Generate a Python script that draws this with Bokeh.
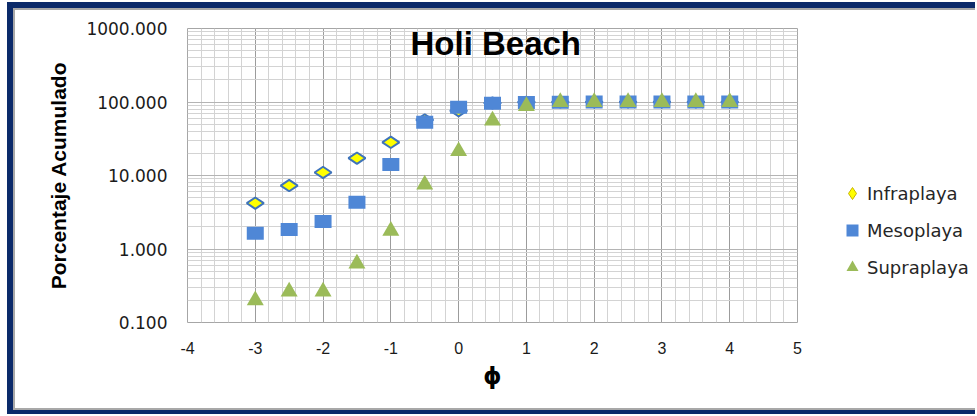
import math
from bokeh.plotting import figure
from bokeh.layouts import column, row
from bokeh.models import (Range1d, FixedTicker, SingleIntervalTicker, PrintfTickFormatter,
                          Label, Legend, LegendItem)
from bokeh.embed import file_html
from bokeh.resources import INLINE

# ---- data ----
phi = [-3, -2.5, -2, -1.5, -1, -0.5, 0, 0.5, 1, 1.5, 2, 2.5, 3, 3.5, 4]
infraplaya = [4.2, 7.3, 11.0, 17.2, 28.3, 57, 76, 97, 99.5, 100, 100, 100, 100, 100, 100]
mesoplaya = [1.64, 1.84, 2.37, 4.33, 14.1, 53, 85, 96.4, 98.5, 99.5, 100, 100, 100, 100, 100]
supraplaya = [0.20, 0.263, 0.263, 0.635, 1.77, 7.55, 21.4, 56, 88, 99.5, 100, 100, 100, 100, 100]
series_names = ["Infraplaya", "Mesoplaya", "Supraplaya"]
y_ticks = [0.1, 1, 10, 100, 1000]
x_ticks = [-4, -3, -2, -1, 0, 1, 2, 3, 4, 5]
chart_title = "Holi Beach"
x_title = "ϕ"
y_title = "Porcentaje Acumulado"

C_YELLOW = "#FFFF00"
C_BLUE = "#4F87D6"
C_DBLUE = "#3F74BA"
C_GREEN = "#9BBB59"
NAVY = "#0B2A6A"
GREY = "#A8A8A8"

H = 398
W_MAIN, W_LEG = 815, 145

p = figure(width=W_MAIN, height=H,
           x_range=Range1d(x_ticks[0], x_ticks[-1]), y_range=Range1d(y_ticks[0], y_ticks[-1]),
           y_axis_type="log", output_backend="svg", toolbar_location=None,
           min_border_left=172, min_border_right=33, min_border_top=18, min_border_bottom=86,
           background_fill_color="white", border_fill_color="white")
p.outline_line_color = "#A6A6A6"

# ticks / grids
xt = SingleIntervalTicker(interval=1, num_minor_ticks=5)
p.xaxis.ticker = xt
p.xgrid.ticker = xt
p.xaxis.major_label_overrides = {t: str(t) for t in x_ticks}
minor_y = [m * 10.0 ** e for e in range(-1, 3) for m in range(2, 10)]
yt = FixedTicker(ticks=y_ticks, minor_ticks=minor_y)
p.yaxis.ticker = yt
p.ygrid.ticker = yt
p.yaxis.formatter = PrintfTickFormatter(format="%.3f")

p.xgrid.grid_line_color = "#9C9C9C"
p.xgrid.minor_grid_line_color = "#D3D3D3"
p.ygrid.grid_line_color = "#B4B4B4"
p.ygrid.minor_grid_line_color = "#D3D3D3"

for ax in (p.xaxis, p.yaxis):
    ax.axis_line_color = None
    ax.major_tick_line_color = None
    ax.minor_tick_line_color = None
    ax.major_tick_out = 0
    ax.major_tick_in = 0
    ax.minor_tick_out = 0
    ax.minor_tick_in = 0
    ax.major_label_text_color = "#1A1A1A"
    ax.axis_label_text_color = "black"
    ax.axis_label_text_font_style = "bold"

p.yaxis.major_label_text_font = "DejaVu Sans"
p.yaxis.major_label_text_font_size = "17px"
p.yaxis.major_label_standoff = 20
p.yaxis.axis_label = y_title
p.yaxis.axis_label_text_font = "Liberation Sans"
p.yaxis.axis_label_text_font_size = "21px"
p.yaxis.axis_label_standoff = 13

p.xaxis.major_label_text_font = "Liberation Sans"
p.xaxis.major_label_text_font_size = "16px"
p.xaxis.major_label_standoff = 19
p.xaxis.axis_label = x_title
p.xaxis.axis_label_text_font = "DejaVu Sans"
p.xaxis.axis_label_text_font_size = "23px"
p.xaxis.axis_label_standoff = 6

# series (drawing order as in the reference)
p.scatter(phi, infraplaya, marker="diamond", angle=math.pi / 2, size=17,
          fill_color=C_YELLOW, line_color=C_DBLUE, line_width=2)
p.rect(x=phi, y=mesoplaya, width=17, height=13, width_units="screen", height_units="screen",
       fill_color=C_BLUE, line_color=None)
p.scatter(phi, supraplaya, marker="triangle", size=17, fill_color=C_GREEN, line_color=None)

# title inside the plot area
p.add_layout(Label(x=-0.71, y=625, text=chart_title, text_font="Liberation Sans",
                   text_font_style="bold", text_font_size="33px", text_color="black",
                   text_align="left", text_baseline="alphabetic"))

# legend panel: a small figure whose view window lies away from the data,
# so only the legend (drawn from the series styles) shows
q = figure(width=W_LEG, height=H, x_range=Range1d(100, 101), y_range=Range1d(100, 101),
           output_backend="svg", toolbar_location=None,
           x_axis_location=None, y_axis_location=None,
           min_border_left=0, min_border_right=0, min_border_top=0, min_border_bottom=0,
           background_fill_color="white", border_fill_color="white")
q.outline_line_color = None
q.grid.visible = False
l1 = q.scatter(phi, infraplaya, marker="diamond", fill_color=C_YELLOW,
               line_color="#C8B400", line_width=1)
l2 = q.scatter(phi, mesoplaya, marker="square", fill_color=C_BLUE, line_color=None)
l3 = q.scatter(phi, supraplaya, marker="triangle", fill_color=C_GREEN, line_color=None)
legend = Legend(items=[LegendItem(label=series_names[0], renderers=[l1]),
                       LegendItem(label=series_names[1], renderers=[l2]),
                       LegendItem(label=series_names[2], renderers=[l3])],
                location=(7, 39), glyph_width=30, glyph_height=32, label_standoff=0,
                spacing=5, padding=0, margin=0, border_line_color=None,
                background_fill_alpha=0, label_text_font="DejaVu Sans",
                label_text_font_size="18px", label_text_color="#262626")
q.add_layout(legend)

# outer frame: navy band, thin grey line, then the chart on white
charts = row(p, q, styles={"background-color": "white"}, margin=(2, 0, 2, 2))
inner = column(charts, styles={"background-color": GREY}, margin=(6, 0, 4, 6))
outer = column(inner, styles={"background-color": NAVY}, margin=(2, 0, 0, 7))

open("out.html", "w").write(file_html(outer, INLINE))
